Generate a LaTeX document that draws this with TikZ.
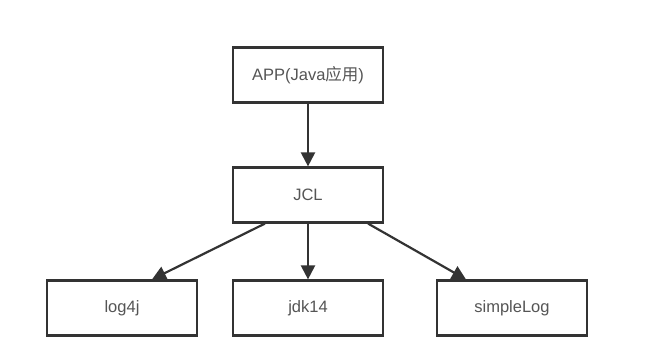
\documentclass[tikz,border=0pt]{standalone}
\usepackage{fontspec}
\setmainfont{Liberation Sans}
\newfontfamily\cjk{Noto Sans CJK SC}
\usetikzlibrary{arrows.meta}
\definecolor{edge}{HTML}{333333}
\definecolor{txt}{HTML}{555555}
\begin{document}
\begin{tikzpicture}[x=1pt,y=-1pt,
  box/.style={draw=edge, line width=2.2pt, fill=white, minimum width=150pt, minimum height=55pt, inner sep=0pt, text=txt, font=\fontsize{16.5}{18}\selectfont},
  link/.style={draw=edge, line width=2.2pt, -{Triangle[length=14pt,width=14pt]}}]
\useasboundingbox (0,0) rectangle (646,355);
\fill[white] (0,0) rectangle (646,355);
\node[box] (app) at (308,75) {APP(Java{\cjk 应用})};
\node[box] (jcl) at (308,195) {JCL};
\node[box] (log) at (122,308) {log4j};
\node[box] (jdk) at (308,308) {jdk14};
\node[box] (simple) at (512,308) {simpleLog};
\coordinate (a1) at ([xshift=33pt]jcl.south west);
\coordinate (a2) at ([xshift=-16pt]jcl.south east);
\draw[link] (app) -- (jcl);
\draw[link] (a1) -- ([xshift=30pt]log.north);
\draw[link] (jcl) -- (jdk);
\draw[link] (a2) -- ([xshift=-46pt]simple.north);
\end{tikzpicture}
\end{document}
